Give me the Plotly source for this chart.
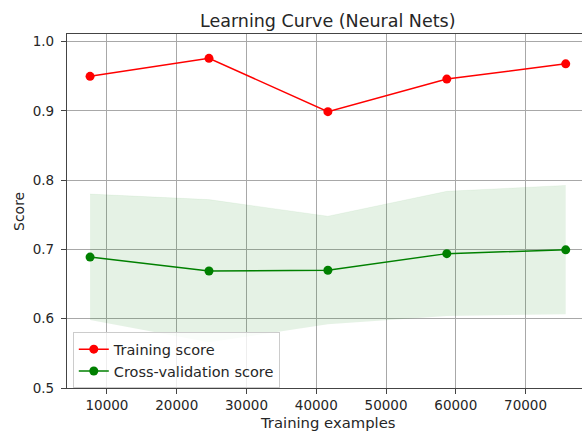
import plotly.graph_objects as go

# Learning-curve results for the neural-net model
train_sizes = [7576, 24622, 41667, 58713, 75759]
train_scores_mean = [0.950, 0.976, 0.899, 0.946, 0.968]
cv_scores_mean = [0.689, 0.669, 0.670, 0.694, 0.6995]
cv_scores_std = [0.091, 0.103, 0.078, 0.090, 0.093]

y_ticks = [0.5, 0.6, 0.7, 0.8, 0.9, 1.0]
x_ticks = [10000, 20000, 30000, 40000, 50000, 60000, 70000]

cv_upper = [m + s for m, s in zip(cv_scores_mean, cv_scores_std)]
cv_lower = [m - s for m, s in zip(cv_scores_mean, cv_scores_std)]

FONT = "DejaVu Sans"
TEXT = "#262626"

W, H = 582, 431
ML, MT, MB, MR = 66.7, 34, 43.3, 0
plot_w = W - ML - MR
plot_h = H - MT - MB


def px_to_paper_x(px):
    return (px - ML) / plot_w


def px_to_paper_y(py):
    return (H - MB - py) / plot_h


fig = go.Figure()

# cross-validation spread band
fig.add_trace(go.Scatter(
    x=train_sizes, y=cv_lower, mode="lines",
    line=dict(width=0, color="rgba(0,128,0,0)"),
    showlegend=False, hoverinfo="skip",
))
fig.add_trace(go.Scatter(
    x=train_sizes, y=cv_upper, mode="lines",
    line=dict(width=0.5, color="rgba(0,128,0,0.1)"),
    fill="tonexty", fillcolor="rgba(0,128,0,0.1)",
    showlegend=False, hoverinfo="skip",
))

fig.add_trace(go.Scatter(
    x=train_sizes, y=train_scores_mean, mode="lines+markers",
    name="Training score",
    line=dict(color="#ff0000", width=1.5),
    marker=dict(color="#ff0000", size=9),
))
fig.add_trace(go.Scatter(
    x=train_sizes, y=cv_scores_mean, mode="lines+markers",
    name="Cross-validation score",
    line=dict(color="#008000", width=1.5),
    marker=dict(color="#008000", size=9),
))

axis_common = dict(
    showgrid=True, gridcolor="#a8a8a8", gridwidth=1,
    showline=True, linecolor="#444444", linewidth=1.2,
    ticks="outside", ticklen=5, tickwidth=1, tickcolor="#444444",
    tickfont=dict(family=FONT, size=13.5, color=TEXT),
    zeroline=False,
)

fig.update_layout(
    width=W, height=H,
    margin=dict(l=ML, r=MR, t=MT, b=MB, pad=0),
    paper_bgcolor="white", plot_bgcolor="white",
    font=dict(family=FONT, color=TEXT),
    xaxis=dict(
        range=[4269, 78094], tickvals=x_ticks,
        ticktext=[str(v) for v in x_ticks],
        mirror=True, ticklabelstandoff=0, **axis_common,
    ),
    yaxis=dict(
        range=[0.5, 1.0111], tickvals=y_ticks,
        ticktext=[f"{v:.1f}" for v in y_ticks],
        mirror=False, ticklabelstandoff=4, **axis_common,
    ),
    legend=dict(
        x=px_to_paper_x(72.5), y=px_to_paper_y(332), xanchor="left", yanchor="top",
        bgcolor="rgba(255,255,255,0.8)", bordercolor="#cccccc", borderwidth=1,
        font=dict(family=FONT, size=14.5, color=TEXT),
        traceorder="normal", tracegroupgap=0, itemwidth=30,
    ),
    annotations=[
        dict(text="Learning Curve (Neural Nets)", xref="paper", yref="paper",
             x=px_to_paper_x(328), y=px_to_paper_y(21), xanchor="center", yanchor="middle",
             showarrow=False, font=dict(family=FONT, size=17.5, color=TEXT)),
        dict(text="Training examples", xref="paper", yref="paper",
             x=px_to_paper_x(328), y=px_to_paper_y(422.5), xanchor="center", yanchor="middle",
             showarrow=False, font=dict(family=FONT, size=14.8, color=TEXT)),
        dict(text="Score", xref="paper", yref="paper", textangle=-90,
             x=px_to_paper_x(18.5), y=px_to_paper_y(211), xanchor="center", yanchor="middle",
             showarrow=False, font=dict(family=FONT, size=14, color=TEXT)),
    ],
)

fig.write_html("out.html")
